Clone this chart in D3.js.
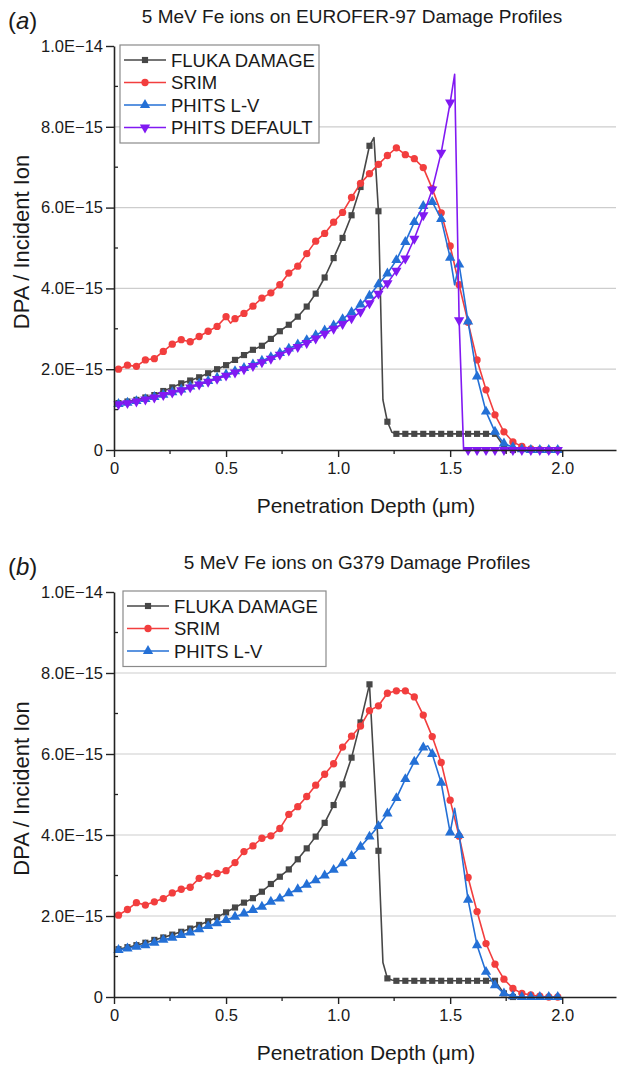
<!DOCTYPE html>
<html><head><meta charset="utf-8">
<script src="https://cdn.jsdelivr.net/npm/d3@7"></script>
<style>
body{margin:0;background:#fff}
svg{display:block}
text{font-family:"Liberation Sans",Arial,sans-serif;fill:#1a1a1a}
</style>
</head><body><svg id="c" width="624" height="1067"></svg>
<script>
// ---------------- DATA (DPA values in units of 1e-15 per incident ion) ----------------
const depth = [0.02,0.06,0.10,0.14,0.18,0.22,0.26,0.30,0.34,0.38,
               0.42,0.46,0.50,0.54,0.58,0.62,0.66,0.70,0.74,0.78,
               0.82,0.86,0.90,0.94,0.98,1.02,1.06,1.10,1.14,1.18,
               1.22,1.26,1.30,1.34,1.38,1.42,1.46,1.50,1.54,1.58,
               1.62,1.66,1.70,1.74,1.78,1.82,1.86,1.90,1.94,1.98];

const seriesNames = ["FLUKA DAMAGE","SRIM","PHITS L-V","PHITS DEFAULT"];
const yTickValues = [0,2,4,6,8,10];
const yTickLabels = ["0","2.0E\u221215","4.0E\u221215","6.0E\u221215","8.0E\u221215","1.0E\u221214"];
const yMinorTicks = [1,3,5,7,9];
const xTickValues = [0,0.5,1.0,1.5,2.0];
const xTickLabels = ["0","0.5","1.0","1.5","2.0"];
const xMinorTicks = [0.25,0.75,1.25,1.75];

// (a) EUROFER-97
const flukaA = [1.16,1.20,1.24,1.30,1.36,1.46,1.55,1.65,1.72,1.80,
                1.90,2.00,2.10,2.23,2.35,2.48,2.58,2.75,2.94,3.10,
                3.30,3.55,3.87,4.27,4.75,5.25,5.81,6.51,7.53,5.91,
                0.70,0.40,0.40,0.40,0.40,0.40,0.40,0.40,0.40,0.40,
                0.40,0.40,0.40,0.09,0.00];
const flukaAExtra = [[1.16,7.73],[1.20,1.24],[1.24,0.44]];
const srimA = [2.00,2.10,2.07,2.23,2.26,2.44,2.62,2.73,2.68,2.81,
               2.94,3.06,3.30,3.25,3.38,3.56,3.76,3.89,4.09,4.38,
               4.55,4.86,5.17,5.36,5.64,5.88,6.25,6.60,6.84,7.07,
               7.29,7.48,7.31,7.21,6.99,6.47,5.87,5.05,4.09,3.16,
               2.23,1.49,0.87,0.45,0.20,0.09,0.03,0.01,0.00,0.00];
const srimAExtra = [[0.52,3.14]];
const phitsLVA = [1.14,1.17,1.21,1.26,1.31,1.37,1.43,1.50,1.57,1.64,
                  1.71,1.79,1.87,1.95,2.03,2.12,2.21,2.30,2.40,2.51,
                  2.61,2.72,2.84,2.96,3.08,3.24,3.41,3.60,3.82,4.10,
                  4.37,4.70,5.15,5.64,6.04,6.14,5.72,4.76,4.59,3.18,
                  1.82,0.95,0.45,0.16,0.07,0.02,0.00,0.00,0.00,0.00];
const phitsLVAExtra = [[1.52,4.09]];
const phitsDefA = [1.13,1.16,1.20,1.25,1.30,1.36,1.42,1.48,1.55,1.62,
                   1.69,1.76,1.84,1.92,2.00,2.08,2.17,2.26,2.36,2.46,
                   2.55,2.65,2.76,2.88,3.00,3.12,3.26,3.42,3.63,3.87,
                   4.13,4.44,4.74,5.23,5.81,6.45,7.36,8.60,3.21,0.00,
                   0.00,0.00,0.00,0.00,0.00,0.00,0.00,0.00,0.00,0.00];
const phitsDefAExtra = [[1.52,9.30],[1.56,0.00]];

// (b) G379
const flukaB = [1.18,1.23,1.28,1.34,1.41,1.47,1.54,1.61,1.69,1.78,
                1.87,1.97,2.09,2.21,2.33,2.44,2.60,2.79,2.97,3.15,
                3.40,3.67,3.96,4.30,4.74,5.25,5.91,6.78,7.72,3.61,
                0.46,0.40,0.40,0.40,0.40,0.40,0.40,0.40,0.40,0.40,
                0.40,0.40,0.40,0.09,0.00];
const flukaBExtra = [[1.20,0.85],[1.24,0.42]];
const srimB = [2.02,2.16,2.33,2.27,2.35,2.43,2.57,2.66,2.71,2.93,
               2.99,3.05,3.12,3.32,3.59,3.73,3.92,3.98,4.16,4.51,
               4.70,4.95,5.23,5.50,5.76,6.17,6.44,6.69,7.07,7.19,
               7.50,7.56,7.56,7.41,6.96,6.43,5.79,4.86,3.97,2.95,
               2.11,1.32,0.81,0.44,0.21,0.09,0.05,0.02,0.00,0.00];
const srimBExtra = [];
const phitsLVB = [1.16,1.20,1.24,1.28,1.34,1.41,1.46,1.53,1.59,1.67,
                  1.75,1.82,1.90,1.98,2.06,2.15,2.23,2.35,2.43,2.56,
                  2.66,2.77,2.88,3.00,3.14,3.30,3.48,3.71,3.96,4.22,
                  4.53,4.91,5.38,5.81,6.16,6.00,5.29,4.06,4.00,2.40,
                  1.28,0.62,0.29,0.09,0.02,0.00,0.00,0.00,0.00,0.00];
const phitsLVBExtra = [[1.40,6.20],[1.52,4.66]];

// ---------------- STYLE ----------------
const colors = {"FLUKA DAMAGE":"#474747","SRIM":"#f23e3e","PHITS L-V":"#2470d6","PHITS DEFAULT":"#8119f2"};
const symbols = {"FLUKA DAMAGE":d3.symbolSquare,"SRIM":d3.symbolCircle,"PHITS L-V":d3.symbolTriangle,"PHITS DEFAULT":"down"};
const symSize = {"FLUKA DAMAGE":38,"SRIM":42,"PHITS L-V":46,"PHITS DEFAULT":46};

const svg = d3.select("#c");
const font = '"Liberation Sans",Arial,sans-serif';

function buildPts(vals, extra){
  const pts = vals.map((v,i)=>({x:depth[i], y:v, m:true}));
  extra.forEach(e=>pts.push({x:e[0], y:e[1], m:false}));
  pts.sort((a,b)=>a.x-b.x);
  return pts;
}

function drawPanel(cfg){
  const x = d3.scaleLinear().domain([0,2.24]).range([114,616]);
  const y = d3.scaleLinear().domain([0,10]).range([cfg.bottom, cfg.top]);
  const g = svg.append("g");

  // gridlines
  g.append("g").selectAll("line").data([2,4,6,8]).join("line")
    .attr("x1",x(0)).attr("x2",x(2.24))
    .attr("y1",d=>y(d)).attr("y2",d=>y(d))
    .attr("stroke","#cdcdcd").attr("stroke-width",1.2);

  // series
  cfg.series.forEach(s=>{
    const pts = buildPts(s.vals, s.extra);
    const line = d3.line().x(d=>x(d.x)).y(d=>y(d.y));
    g.append("path").datum(pts).attr("d",line)
      .attr("fill","none").attr("stroke",colors[s.name]).attr("stroke-width",1.6)
      .attr("stroke-linejoin","round");
    const mk = pts.filter(p=>p.m);
    const sym = symbols[s.name];
    const isDown = sym==="down";
    const shape = d3.symbol().type(isDown?d3.symbolTriangle:sym).size(symSize[s.name]);
    g.append("g").selectAll("path").data(mk).join("path")
      .attr("d",shape)
      .attr("transform",d=>`translate(${x(d.x)},${y(d.y)})${isDown?" rotate(180)":""}`)
      .attr("fill",colors[s.name]);
  });

  // axes
  const ax = g.append("g").attr("transform",`translate(0,${cfg.bottom})`)
    .call(d3.axisBottom(x).tickValues(xTickValues).tickSize(7).tickSizeOuter(0)
      .tickFormat((d,i)=>xTickLabels[i]));
  ax.select(".domain").attr("stroke","#222").attr("stroke-width",1.6);
  ax.selectAll(".tick line").attr("stroke","#222").attr("stroke-width",1.4);
  ax.selectAll(".tick text").attr("font-size",16.5).attr("font-family",font).attr("fill","#222").attr("dy","0.85em");
  g.append("g").attr("transform",`translate(0,${cfg.bottom})`).selectAll("line").data(xMinorTicks).join("line")
    .attr("x1",d=>x(d)).attr("x2",d=>x(d)).attr("y1",0).attr("y2",4)
    .attr("stroke","#222").attr("stroke-width",1.3);

  const ay = g.append("g").attr("transform",`translate(${x(0)},0)`)
    .call(d3.axisLeft(y).tickValues(yTickValues).tickSize(8).tickSizeOuter(0)
      .tickFormat((d,i)=>yTickLabels[i]));
  ay.select(".domain").attr("stroke","#222").attr("stroke-width",1.6);
  ay.selectAll(".tick line").attr("stroke","#222").attr("stroke-width",1.4);
  ay.selectAll(".tick text").attr("font-size",16.5).attr("font-family",font).attr("fill","#222").attr("x",-11);
  g.append("g").attr("transform",`translate(${x(0)},0)`).selectAll("line").data(yMinorTicks).join("line")
    .attr("x1",0).attr("x2",4).attr("y1",d=>y(d)).attr("y2",d=>y(d))
    .attr("stroke","#222").attr("stroke-width",1.3);

  // axis titles
  const xt = g.append("text").attr("x",366).attr("y",cfg.bottom+63)
    .attr("text-anchor","middle").attr("font-size",21);
  xt.append("tspan").text("Penetration Depth (");
  xt.append("tspan").text("\u03bc");
  xt.append("tspan").text("m)");
  g.append("text").attr("transform",`translate(29,${(cfg.top+cfg.bottom)/2-6}) rotate(-90)`)
    .attr("text-anchor","middle").attr("font-size",22).text("DPA / Incident Ion");

  // title & panel label
  g.append("text").attr("x",cfg.titleX).attr("y",cfg.top-23).attr("text-anchor","middle")
    .attr("font-size",19).text(cfg.title);
  const pl = g.append("text").attr("x",8).attr("y",cfg.top-17).attr("font-size",24);
  pl.append("tspan").text("(");
  pl.append("tspan").attr("font-style","italic").text(cfg.label);
  pl.append("tspan").text(")");

  // legend
  const L = cfg.legend;
  const lg = g.append("g");
  lg.append("rect").attr("x",L.x).attr("y",L.y).attr("width",L.w).attr("height",cfg.series.length*22.5+8)
    .attr("fill","#fff").attr("stroke","#8a8a8a").attr("stroke-width",1.2);
  cfg.series.forEach((s,i)=>{
    const cy = L.y + 15 + i*22.5;
    lg.append("line").attr("x1",L.x+4).attr("x2",L.x+46).attr("y1",cy).attr("y2",cy)
      .attr("stroke",colors[s.name]).attr("stroke-width",1.6);
    const isDown = symbols[s.name]==="down";
    lg.append("path").attr("d",d3.symbol().type(isDown?d3.symbolTriangle:symbols[s.name]).size(symSize[s.name])())
      .attr("transform",`translate(${L.x+25},${cy})${isDown?" rotate(180)":""}`)
      .attr("fill",colors[s.name]);
    lg.append("text").attr("x",L.x+51).attr("y",cy).attr("dy","0.36em")
      .attr("font-size",18.5).text(s.name);
  });
}

drawPanel({
  top:46, bottom:450, label:"a", titleX:352,
  title:"5 MeV Fe ions on EUROFER-97 Damage Profiles",
  legend:{x:120,y:45,w:199},
  series:[
    {name:seriesNames[0], vals:flukaA, extra:flukaAExtra},
    {name:seriesNames[1], vals:srimA, extra:srimAExtra},
    {name:seriesNames[2], vals:phitsLVA, extra:phitsLVAExtra},
    {name:seriesNames[3], vals:phitsDefA, extra:phitsDefAExtra}
  ]
});
drawPanel({
  top:592, bottom:997, label:"b", titleX:357,
  title:"5 MeV Fe ions on G379 Damage Profiles",
  legend:{x:123,y:591,w:203},
  series:[
    {name:seriesNames[0], vals:flukaB, extra:flukaBExtra},
    {name:seriesNames[1], vals:srimB, extra:srimBExtra},
    {name:seriesNames[2], vals:phitsLVB, extra:phitsLVBExtra}
  ]
});
</script>
</body></html>
